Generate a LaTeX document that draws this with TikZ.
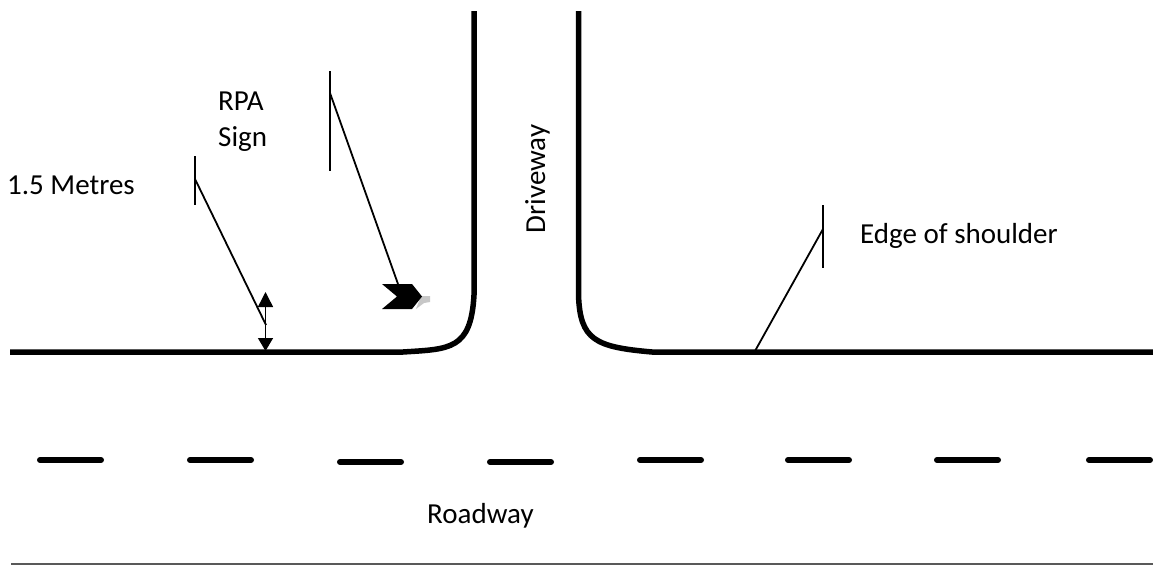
\documentclass[tikz,border=0pt]{standalone}
\usepackage{fontspec}
\setmainfont{Carlito}
\usetikzlibrary{arrows.meta}
\tikzset{
  road/.style={line width=5.5pt,black},
  lane/.style={line width=6pt,black,line cap=round},
  thin/.style={line width=1.8pt,black},
  lbl/.style={font=\fontsize{29}{35}\selectfont,inner sep=0pt,text=black},
}
\begin{document}
\begin{tikzpicture}[x=1pt,y=-1pt]
\useasboundingbox (0,0) rectangle (1153,565);
\coordinate (L1) at (10,352); \coordinate (L2) at (403,352);
\coordinate (L3) at (474,295); \coordinate (L4) at (474,11);
\coordinate (R1) at (1153,352); \coordinate (R2) at (652,352);
\coordinate (R3) at (578.5,295); \coordinate (R4) at (578.5,11);
\draw[road] (L1) -- (L2) .. controls (450,349) and (471,350) .. (L3) -- (L4);
\draw[road] (R1) -- (R2) .. controls (595,347) and (580,340) .. (R3) -- (R4);
\foreach \a/\y in {37/460,187/460,337/462,487/462,637/460,785/460,934/460,1086/460}
  \draw[lane] (\a+3,\y) -- (\a+64,\y);
\draw[line width=1.4pt,black!65] (11,564) -- (1153,564);
\node[lbl,anchor=base west] (metres) at (7,194) {1.5 Metres};
\node[lbl,anchor=base west] (rpa) at (218,110) {RPA};
\node[lbl,anchor=base west] (sign) at (218,146) {Sign};
\node[lbl,rotate=90,anchor=base] (drive) at (545,179) {Driveway};
\node[lbl,anchor=base west] (edge) at (860,243) {Edge of shoulder};
\node[lbl,anchor=base west] (road) at (427,523) {Roadway};
\coordinate (a1) at (195,156); \coordinate (a2) at (195,205); \coordinate (am) at (195,179);
\coordinate (a3) at (266,325);
\draw[thin] (a1) -- (a2); \draw[thin] (am) -- (a3);
\coordinate (b1) at (330,71); \coordinate (b2) at (330,171); \coordinate (bm) at (330,93);
\coordinate (b3) at (398,284);
\draw[thin] (b1) -- (b2); \draw[thin] (bm) -- (b3);
\coordinate (c1) at (823,205); \coordinate (c2) at (823,268); \coordinate (cm) at (823,229);
\coordinate (c3) at (755,351);
\draw[thin] (c1) -- (c2); \draw[thin] (cm) -- (c3);
\coordinate (d1) at (265.5,292); \coordinate (d2) at (265.5,351);
\draw[line width=1.5pt,black,{Triangle[length=15pt,width=15pt]}-{Triangle[length=13pt,width=15pt]}] (d1) -- (d2);
\fill[black!22] (421,296) -- (430,296) -- (430,302) -- (424,303) -- (416,309) -- cycle;
\fill[black] (382,284) -- (412,284) -- (422,296.5) -- (412,309) -- (382,309) -- (397,296.5) -- cycle;
\end{tikzpicture}
\end{document}
